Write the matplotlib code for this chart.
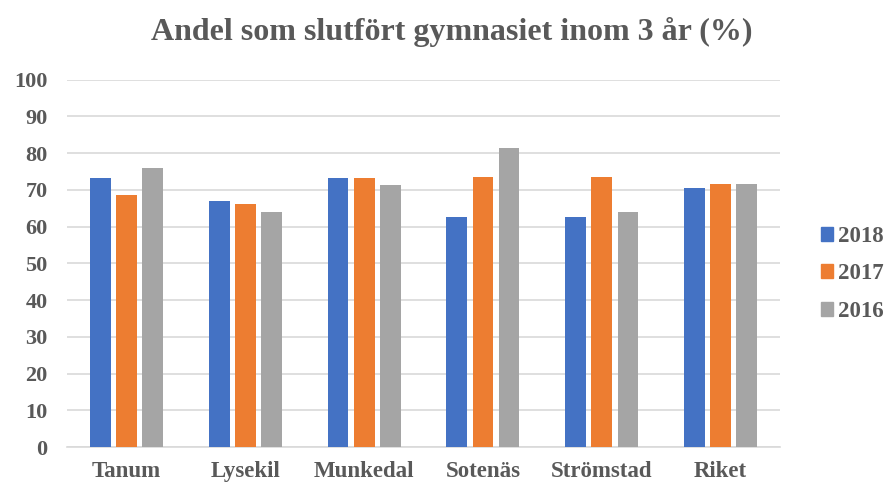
import numpy as np
import matplotlib.pyplot as plt
from matplotlib.patches import Patch

# Data
categories = ['Tanum', 'Lysekil', 'Munkedal', 'Sotenäs', 'Strömstad', 'Riket']
years = ['2018', '2017', '2016']
values_2018 = [73.2, 67.0, 73.1, 62.7, 62.6, 70.5]
values_2017 = [68.5, 66.2, 73.2, 73.4, 73.5, 71.5]
values_2016 = [75.9, 64.0, 71.3, 81.5, 64.0, 71.7]
colors = ['#4472C4', '#ED7D31', '#A5A5A5']

plt.rcParams['font.family'] = ['Liberation Serif', 'DejaVu Serif']
text_col = '#595959'

fig = plt.figure(figsize=(8.89, 4.84), dpi=100)
ax = fig.add_axes([0.0754, 0.0764, 0.802, 0.759])

x = np.arange(len(categories))
offset = 0.22
width = 0.175
for i, (vals, col) in enumerate(zip([values_2018, values_2017, values_2016], colors)):
    ax.bar(x + (i - 1) * offset, vals, width, color=col, zorder=3)

ax.set_xlim(-0.5, len(categories) - 0.5)
ax.set_ylim(0, 100)
ax.set_yticks(range(0, 101, 10))
ax.set_xticks(x)
ax.set_xticklabels(categories)
ax.yaxis.grid(True, color='#d9d9d9', linewidth=1.2, zorder=0)
for s in ['top', 'right', 'left']:
    ax.spines[s].set_visible(False)
ax.spines['bottom'].set_color('#d9d9d9')
ax.spines['bottom'].set_linewidth(1.2)
ax.tick_params(axis='both', length=0, labelcolor=text_col)
ax.tick_params(axis='x', pad=10, labelsize=16.5)
ax.tick_params(axis='y', pad=14, labelsize=16)
for lbl in ax.get_xticklabels() + ax.get_yticklabels():
    lbl.set_fontweight('bold')

fig.text(0.508, 0.934, 'Andel som slutfört gymnasiet inom 3 år (%)', ha='center', va='center',
         fontsize=23, fontweight='bold', color=text_col)

handles = [Patch(color=c) for c in colors]
leg = fig.legend(handles, years, loc='center left', bbox_to_anchor=(0.913, 0.434),
                 frameon=False, handlelength=0.55, handleheight=0.55, handletextpad=0.2,
                 labelspacing=0.72, borderaxespad=0,
                 prop={'size': 16.5, 'weight': 'bold'})
for t in leg.get_texts():
    t.set_color(text_col)

fig.savefig('out.png', dpi=100)
